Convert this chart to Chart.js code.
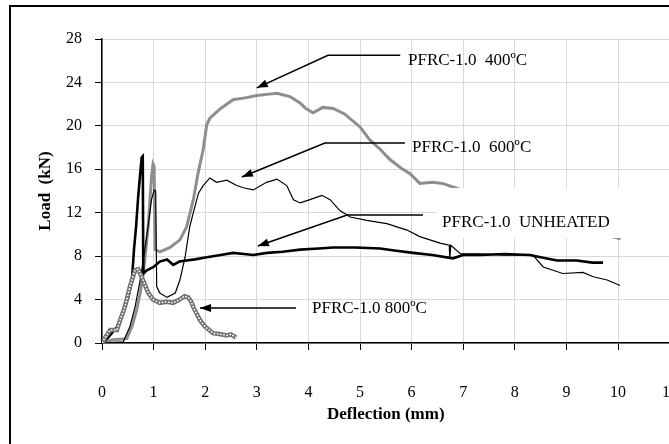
<!DOCTYPE html>
<html>
<head>
<meta charset="utf-8">
<script src="https://cdn.jsdelivr.net/npm/chart.js@4/dist/chart.umd.min.js"></script>
<style>
html, body { margin: 0; padding: 0; width: 669px; height: 444px; overflow: hidden; background: #fff; }
#frame { position: absolute; left: 9px; top: 5px; width: 720px; height: 480px; border: 2px solid #000; }
#chart { position: absolute; left: 0; top: 0; }
</style>
</head>
<body>
<div id="frame"></div>
<canvas id="chart" width="720" height="444"></canvas>
<script>
// load-deflection curves (deflection mm, load kN)
const unheatedX = [0, 0.12, 0.29, 0.41, 0.51, 0.58, 0.62, 0.66, 0.70, 0.74, 0.77, 0.79, 0.80, 0.87, 1.0, 1.12, 1.26, 1.38, 1.5, 1.64, 1.8, 2.03, 2.3, 2.54, 2.75, 2.93, 3.2, 3.5, 3.84, 4.2, 4.48, 4.9, 5.39, 5.7, 6.03, 6.4, 6.8, 7.0, 7.33, 7.8, 8.29, 8.5, 8.82, 9.2, 9.5, 9.71];
const unheatedY = [0, 0.5, 1.5, 2.8, 4.2, 5.8, 8.6, 10.7, 13.4, 15.6, 17.1, 17.2, 6.4, 6.7, 7.0, 7.5, 7.7, 7.2, 7.5, 7.6, 7.7, 7.9, 8.1, 8.3, 8.2, 8.1, 8.3, 8.4, 8.6, 8.7, 8.8, 8.8, 8.7, 8.5, 8.3, 8.1, 7.8, 8.1, 8.1, 8.2, 8.1, 7.9, 7.6, 7.6, 7.4, 7.4];

const t400X = [0, 0.21, 0.48, 0.58, 0.67, 0.74, 0.8, 0.85, 0.9, 0.93, 0.96, 0.99, 1.01, 1.03, 1.12, 1.32, 1.51, 1.64, 1.77, 1.86, 1.96, 2.03, 2.09, 2.3, 2.54, 2.8, 3.0, 3.2, 3.39, 3.64, 3.84, 3.95, 4.09, 4.28, 4.48, 4.7, 5.0, 5.19, 5.4, 5.58, 5.8, 5.97, 6.16, 6.4, 6.6, 6.84, 7.5, 8.5, 9.5, 10.05];
const t400Y = [0, 0.3, 0.4, 1.5, 3.0, 4.6, 6.4, 8.6, 11.0, 13.2, 15.3, 16.5, 16.3, 8.6, 8.4, 8.8, 9.5, 10.7, 13.2, 15.6, 17.8, 20.1, 20.7, 21.6, 22.4, 22.6, 22.8, 22.9, 23.0, 22.7, 22.1, 21.6, 21.2, 21.7, 21.6, 21.1, 19.9, 18.7, 17.8, 16.9, 16.1, 15.6, 14.7, 14.8, 14.7, 14.3, 13.2, 11.6, 10.3, 9.6];

const t600X = [0, 0.41, 0.54, 0.64, 0.74, 0.83, 0.9, 0.96, 1.01, 1.04, 1.06, 1.12, 1.26, 1.42, 1.51, 1.61, 1.7, 1.77, 1.87, 1.96, 2.09, 2.22, 2.42, 2.61, 2.74, 2.93, 3.19, 3.39, 3.58, 3.71, 3.84, 4.03, 4.26, 4.42, 4.61, 4.81, 5.13, 5.52, 5.91, 6.16, 6.55, 6.73, 6.74, 6.76, 6.95, 7.3, 7.8, 8.35, 8.55, 8.93, 9.32, 9.52, 9.79, 10.04];
const t600Y = [0, 0.1, 1.5, 3.3, 5.8, 8.6, 11.0, 13.2, 14.1, 14.0, 5.2, 4.6, 4.2, 4.6, 5.8, 7.9, 10.7, 12.0, 13.8, 14.5, 15.2, 14.8, 15.0, 14.5, 14.3, 14.1, 14.8, 15.1, 14.5, 13.2, 12.9, 13.2, 13.6, 13.2, 12.2, 11.6, 11.3, 11.0, 10.4, 9.8, 9.2, 9.0, 7.8, 9.0, 8.2, 8.2, 8.1, 8.1, 7.0, 6.4, 6.5, 6.1, 5.8, 5.3];

const t800X = [0, 0.06, 0.16, 0.29, 0.35, 0.42, 0.48, 0.53, 0.58, 0.64, 0.7, 0.76, 0.82, 0.9, 0.99, 1.12, 1.25, 1.38, 1.5, 1.6, 1.67, 1.73, 1.77, 1.9, 2.0, 2.15, 2.3, 2.42, 2.5, 2.6];
const t800Y = [0, 0.5, 1.2, 1.2, 2.1, 3.0, 4.0, 5.0, 5.8, 6.7, 6.8, 6.2, 5.5, 4.6, 4.0, 3.7, 3.8, 3.7, 4.0, 4.3, 4.2, 3.8, 3.3, 2.1, 1.5, 0.9, 0.8, 0.7, 0.8, 0.5];

const xMin = 0, xMax = 11, xStep = 1;
const yMin = 0, yMax = 28, yStep = 4;

const labelText = ['PFRC-1.0  400ºC', 'PFRC-1.0  600ºC', 'PFRC-1.0  UNHEATED', 'PFRC-1.0 800ºC'];

// annotation placement, in data units
const notes = [
  { tx: 5.93, ty: 26.06, path: [[5.78, 26.5], [4.38, 26.5], [3.0, 23.5]] },
  { tx: 6.01, ty: 17.96, path: [[5.87, 18.42], [4.32, 18.42], [2.71, 15.29]] },
  { tx: 6.59, ty: 11.14, path: [[6.22, 11.79], [4.75, 11.79], [3.02, 8.93]] },
  { tx: 4.07, ty: 3.22, path: [[3.76, 3.22], [1.9, 3.22]] }
];
const maskBox = { x0: 6.49, x1: 12, y0: 9.67, y1: 14.27 };

function pts(xs, ys) {
  return xs.map(function (x, i) { return { x: x, y: ys[i] }; });
}

const serif = 'Liberation Serif, Times New Roman, serif';

const notesPlugin = {
  id: 'notes',
  afterDatasetsDraw: function (chart) {
    const ctx = chart.ctx;
    const sx = chart.scales.x, sy = chart.scales.y;
    ctx.save();
    // white label box that hides part of the plot
    const bx0 = sx.getPixelForValue(maskBox.x0), bx1 = sx.getPixelForValue(maskBox.x1);
    const by0 = sy.getPixelForValue(maskBox.y1), by1 = sy.getPixelForValue(maskBox.y0);
    ctx.fillStyle = '#fff';
    ctx.fillRect(bx0, by0, bx1 - bx0, by1 - by0);

    ctx.strokeStyle = '#000';
    ctx.fillStyle = '#000';
    ctx.lineWidth = 1.6;
    notes.forEach(function (n, i) {
      const p = n.path.map(function (q) { return [sx.getPixelForValue(q[0]), sy.getPixelForValue(q[1])]; });
      ctx.beginPath();
      ctx.moveTo(p[0][0], p[0][1]);
      for (let k = 1; k < p.length; k++) ctx.lineTo(p[k][0], p[k][1]);
      ctx.stroke();
      // arrow head
      const a = p[p.length - 2], b = p[p.length - 1];
      const ang = Math.atan2(b[1] - a[1], b[0] - a[0]);
      const L = 11, W = 4;
      ctx.beginPath();
      ctx.moveTo(b[0], b[1]);
      ctx.lineTo(b[0] - L * Math.cos(ang) + W * Math.sin(ang), b[1] - L * Math.sin(ang) - W * Math.cos(ang));
      ctx.lineTo(b[0] - L * Math.cos(ang) - W * Math.sin(ang), b[1] - L * Math.sin(ang) + W * Math.cos(ang));
      ctx.closePath();
      ctx.fill();

      ctx.font = '17px ' + serif;
      ctx.textAlign = 'left';
      ctx.textBaseline = 'middle';
      ctx.fillText(labelText[i], sx.getPixelForValue(n.tx), sy.getPixelForValue(n.ty));
    });
    ctx.restore();
  }
};

new Chart(document.getElementById('chart'), {
  type: 'scatter',
  data: {
    datasets: [
      { data: pts(t800X, t800Y), borderColor: '#ffffff', borderWidth: 1.6, borderDash: [1.6, 1.6] },
      { data: pts(t800X, t800Y), borderColor: '#707070', borderWidth: 4.5 },
      { data: pts(unheatedX, unheatedY), borderColor: '#000', borderWidth: 2.6 },
      { data: pts(t600X, t600Y), borderColor: '#000', borderWidth: 1.2 },
      { data: pts(t400X, t400Y), borderColor: '#8e8e8e', borderWidth: 3 }
    ]
  },
  options: {
    responsive: false,
    animation: false,
    showLine: true,
    elements: { point: { radius: 0 }, line: { tension: 0 } },
    layout: { padding: { left: 0, top: 39, right: 50.4, bottom: 0 } },
    plugins: { legend: { display: false }, tooltip: { enabled: false } },
    scales: {
      x: {
        type: 'linear', min: xMin, max: xMax,
        afterFit: function (s) { s.height = 101; },
        ticks: { stepSize: xStep, color: '#000', padding: 33, font: { family: serif, size: 16 } },
        grid: { color: '#d9d9d9', tickColor: '#000', tickLength: 7 },
        border: { color: '#000', width: 1.5 },
        title: { display: true, text: 'Deflection (mm)', color: '#000', padding: { top: 0, bottom: 19 }, font: { family: serif, size: 17, weight: 'bold' } }
      },
      y: {
        min: yMin, max: yMax,
        afterFit: function (s) { s.width = 102; },
        ticks: { stepSize: yStep, color: '#000', padding: 13, font: { family: serif, size: 16 } },
        grid: { color: '#d9d9d9', tickColor: '#000', tickLength: 7 },
        border: { color: '#000', width: 1.5 },
        title: { display: true, text: 'Load  (kN)', color: '#000', padding: { top: 35, bottom: 0 }, font: { family: serif, size: 17, weight: 'bold' } }
      }
    }
  },
  plugins: [notesPlugin]
});
</script>
</body>
</html>
